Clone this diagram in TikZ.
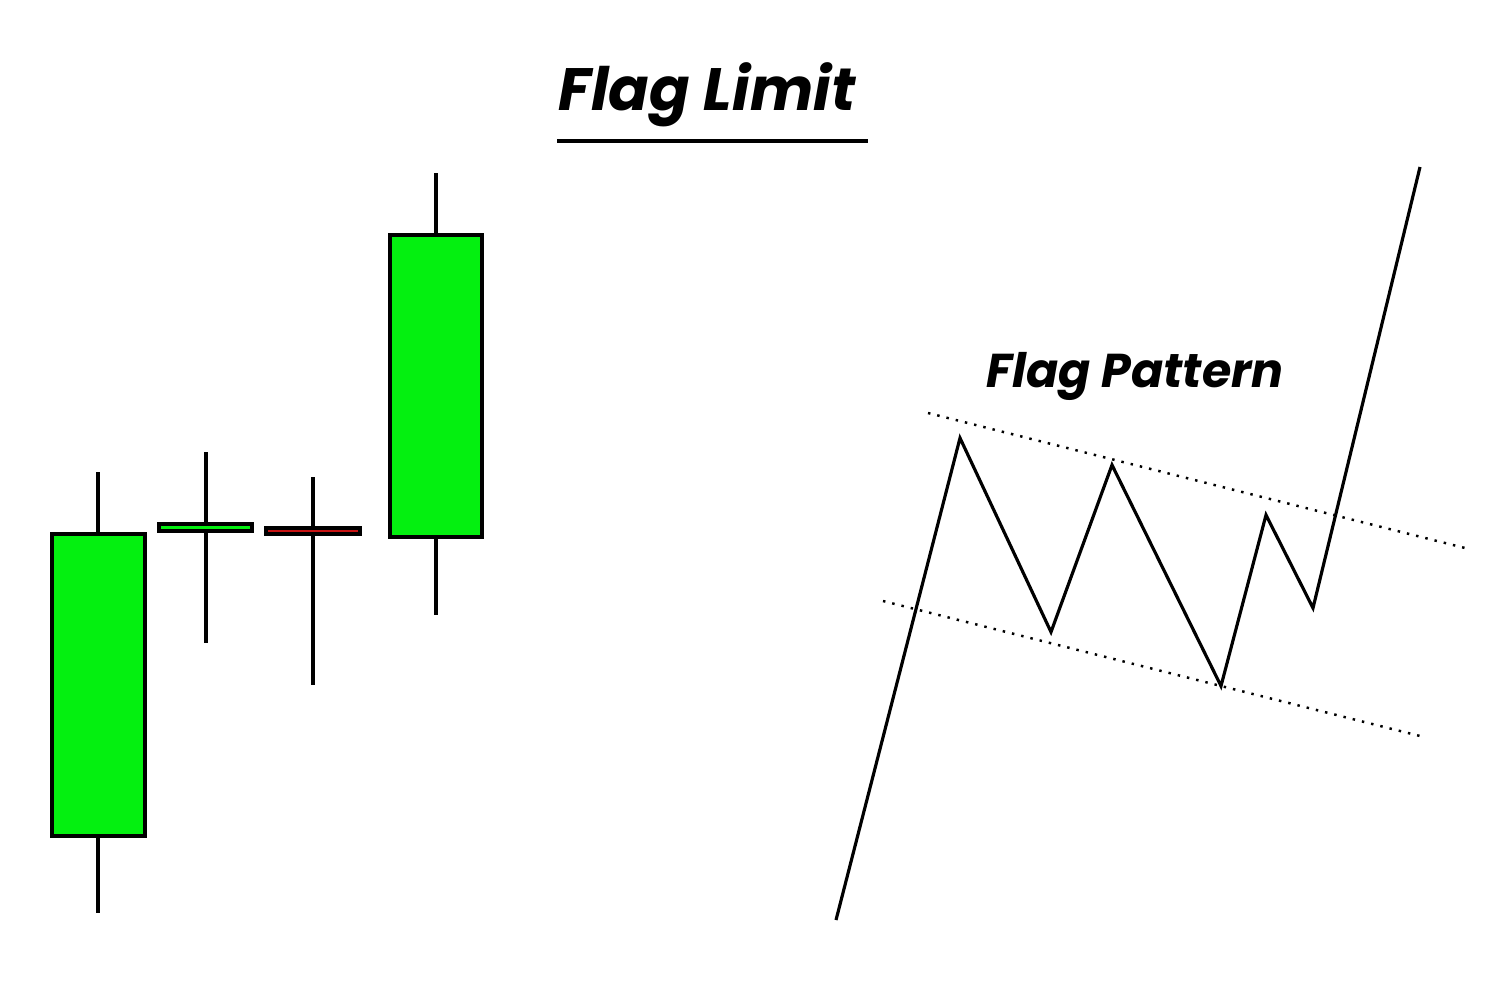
\documentclass[tikz,border=0pt]{standalone}
\usepackage{fontspec}
\setmainfont{Poppins}
\usetikzlibrary{positioning}
\definecolor{bull}{RGB}{4,240,16}
\definecolor{bear}{RGB}{200,20,20}
\tikzset{
	wick/.style={line width=0.9pt}, % wick of a candle
	candle/.style={draw, line width=0.9pt, fill=bull}, % body of a candle
	trendline/.style={dotted, line width=0.7pt},
	title/.style={font=\bfseries\itshape\fontsize{17}{20}\selectfont},
}
\begin{document}
\begin{tikzpicture}[x=0.01cm, y=-0.01cm]
	\useasboundingbox (0,0) rectangle (1500,1000);
	% candles
	\draw[wick] (98,472) -- (98,913);
	\draw[candle] (52,534) rectangle (145,836);
	\draw[wick] (206,452) -- (206,643);
	\draw[candle] (159,524) rectangle (252,531);
	\draw[wick] (313,477) -- (313,685);
	\draw[candle, fill=bear] (266,528) rectangle (360,534);
	\draw[wick] (436,173) -- (436,615);
	\draw[candle] (390,235) rectangle (482,537);
	% titles
	\node[title] (head) at (707,95) {Flag Limit};
	\draw[line width=1.2pt] (557,141) -- (868,141);
	\node[title, font=\bfseries\itshape\fontsize{13.5}{16}\selectfont] (flag) at (1135,376) {Flag Pattern};
	% flag pattern
	\coordinate (p0) at (836,920);
	\coordinate (p1) at (960,438);
	\coordinate (p2) at (1051,632);
	\coordinate (p3) at (1112,465);
	\coordinate (p4) at (1221,686);
	\coordinate (p5) at (1266,515);
	\coordinate (p6) at (1313,608);
	\coordinate (p7) at (1420,167);
	\draw[line width=0.9pt] (p0) -- (p1) -- (p2) -- (p3) -- (p4) -- (p5) -- (p6) -- (p7);
	\coordinate (u1) at (928,413);
	\coordinate (u2) at (1465,548);
	\coordinate (l1) at (883,601);
	\coordinate (l2) at (1420,736);
	\draw[trendline] (u1) -- (u2);
	\draw[trendline] (l1) -- (l2);
\end{tikzpicture}
\end{document}
